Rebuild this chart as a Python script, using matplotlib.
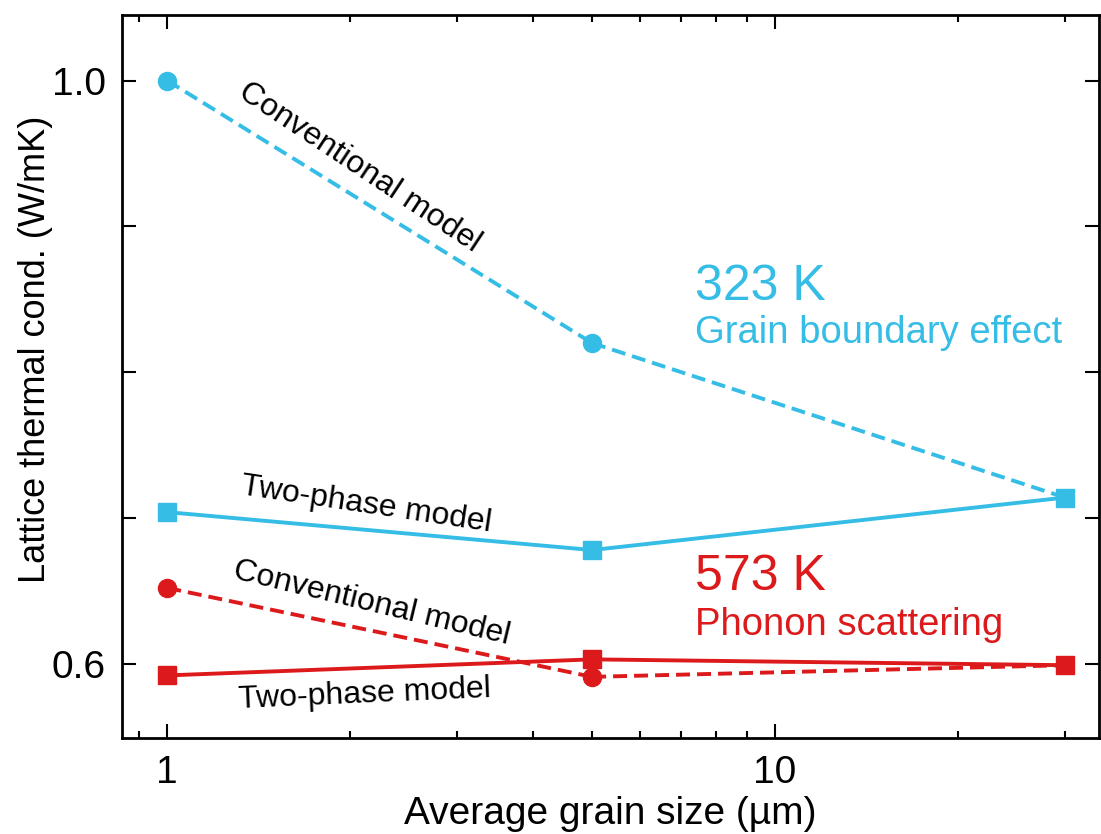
import numpy as np
import matplotlib
matplotlib.use("Agg")
import matplotlib.pyplot as plt
from matplotlib.ticker import FixedLocator, NullFormatter, FixedFormatter

plt.rcParams['font.family'] = ['Liberation Sans', 'DejaVu Sans']

# data
grain_size = [1, 5, 30]
blue_conv = [1.000, 0.820, 0.714]
blue_two = [0.704, 0.678, 0.714]
red_conv = [0.652, 0.591, 0.599]
red_two = [0.592, 0.603, 0.599]

BLUE = "#35BDE6"
RED = "#DC1A1C"
H = 834

fig = plt.figure(figsize=(11.01, 8.34), dpi=100)
ax = fig.add_axes([0.111, 0.115, 0.887, 0.867])

lw = 2.8
dash = (0, (3.6, 1.8))
ax.plot(grain_size[:2], blue_conv[:2], color=BLUE, ls=dash, lw=lw, marker='o', ms=13)
ax.plot(grain_size[1:], blue_conv[1:], color=BLUE, ls=dash, lw=lw)
ax.plot(grain_size, blue_two, color=BLUE, ls='-', lw=lw, marker='s', ms=13)
ax.plot(grain_size[:2], red_conv[:2], color=RED, ls=dash, lw=lw, marker='o', ms=13)
ax.plot(grain_size[1:], red_conv[1:], color=RED, ls=dash, lw=lw)
ax.plot(grain_size, red_two, color=RED, ls='-', lw=lw, marker='s', ms=13)

ax.set_xscale('log')
ax.set_xlim(0.843, 34.1)
ax.set_ylim(0.549, 1.045)

ax.xaxis.set_major_locator(FixedLocator([1, 10]))
ax.xaxis.set_major_formatter(FixedFormatter(['1', '10']))
ax.xaxis.set_minor_locator(FixedLocator([0.9, 2, 3, 4, 5, 6, 7, 8, 9, 20, 30]))
ax.xaxis.set_minor_formatter(NullFormatter())

ax.yaxis.set_major_locator(FixedLocator([0.6, 0.7, 0.8, 0.9, 1.0]))
ax.yaxis.set_major_formatter(FixedFormatter(['0.6', '', '', '', '1.0']))

ax.tick_params(which='both', direction='in', top=True, right=True, width=1.5, labelsize=28)
ax.tick_params(which='major', length=10, pad=12)
ax.tick_params(which='minor', length=5)
for s in ax.spines.values():
    s.set_linewidth(2)

ax.set_xlabel("Average grain size (µm)", fontsize=28, labelpad=4)
ax.set_ylabel("Lattice thermal cond. (W/mK)", fontsize=26)
ax.yaxis.set_label_coords(-0.0706, 0.538)

# model labels, placed in pixel coords (top-left origin, flipped)
for x, y, rot, s in [(360, 168, -33.5, "Conventional model"),
                     (366, 505, -8.5, "Two-phase model"),
                     (372, 603, -13.5, "Conventional model"),
                     (365, 695, 2.5, "Two-phase model")]:
    fig.text(x, H - y, s, fontsize=23, rotation=rot,
             ha='center', va='center', transform=None, rotation_mode='anchor')

fig.text(695, H - 300, "323 K", fontsize=36, color=BLUE, va='baseline', transform=None)
fig.text(695, H - 343, "Grain boundary effect", fontsize=27.5, color=BLUE, va='baseline', transform=None)
fig.text(695, H - 590, "573 K", fontsize=36, color=RED, va='baseline', transform=None)
fig.text(695, H - 635, "Phonon scattering", fontsize=27.5, color=RED, va='baseline', transform=None)

fig.savefig("out.png", dpi=100)
